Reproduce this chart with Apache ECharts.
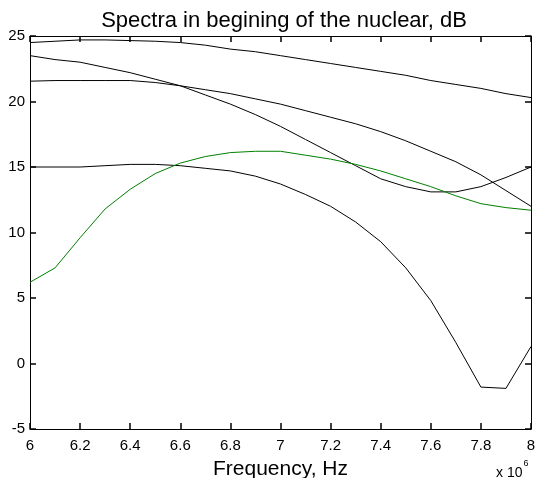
<!DOCTYPE html>
<html>
<head>
<meta charset="utf-8">
<script src="https://cdn.jsdelivr.net/npm/echarts@6/dist/echarts.min.js"></script>
<style>
  html, body { margin: 0; padding: 0; background: #fff; }
  #chart { width: 537px; height: 478px; }
</style>
</head>
<body>
<div id="chart"></div>
<script>
// frequency in units of 1e6 Hz
var freq = [6.0, 6.1, 6.2, 6.3, 6.4, 6.5, 6.6, 6.7, 6.8, 6.9, 7.0,
            7.1, 7.2, 7.3, 7.4, 7.5, 7.6, 7.7, 7.8, 7.9, 8.0];

var specTop = [24.5, 24.6, 24.7, 24.7, 24.65, 24.6, 24.5, 24.3, 24.0, 23.8, 23.5,
               23.2, 22.9, 22.6, 22.3, 22.0, 21.6, 21.3, 21.0, 20.6, 20.3];
var specB = [23.5, 23.2, 23.0, 22.6, 22.2, 21.7, 21.2, 20.5, 19.8, 19.0, 18.1,
             17.1, 16.1, 15.1, 14.1, 13.5, 13.1, 13.1, 13.5, 14.2, 15.0];
var specC = [21.55, 21.6, 21.6, 21.6, 21.6, 21.45, 21.2, 20.9, 20.6, 20.2, 19.8,
             19.3, 18.8, 18.3, 17.7, 17.0, 16.2, 15.4, 14.4, 13.2, 12.0];
var specD = [15.0, 15.0, 15.0, 15.1, 15.2, 15.2, 15.1, 14.9, 14.7, 14.3, 13.7,
             12.9, 12.0, 10.8, 9.3, 7.3, 4.8, 1.6, -1.8, -1.9, 1.3];
var specGreen = [6.2, 7.3, 9.6, 11.8, 13.3, 14.5, 15.3, 15.8, 16.1, 16.2, 16.2,
                 15.9, 15.6, 15.2, 14.7, 14.1, 13.5, 12.8, 12.2, 11.9, 11.7];

function pairs(ys) {
    return freq.map(function (f, i) { return [f, ys[i]]; });
}

function line(ys, color) {
    return {
        type: 'line',
        data: pairs(ys),
        symbol: 'none',
        lineStyle: { color: color, width: 1 }
    };
}

var font = 'Liberation Sans, Arial, sans-serif';

// box axes with inward ticks, like the matlab plot
function axisStyle() {
    return {
        axisLine: { show: true, onZero: false, lineStyle: { color: '#000', width: 1 } },
        axisTick: { show: true, inside: true, length: 6, lineStyle: { color: '#000', width: 1.5 } },
        splitLine: { show: false }
    };
}

var myChart = echarts.init(document.getElementById('chart'));
var option = {
    animation: false,
    backgroundColor: '#fff',
    title: {
        text: 'Spectra in begining of the nuclear, dB',
        left: 279, top: 5, textAlign: 'center',
        textStyle: { fontFamily: font, fontSize: 22, fontWeight: 'normal', color: '#000' }
    },
    grid: { left: 30, right: 6, top: 36, bottom: 49, outerBoundsMode: 'none' },
    xAxis: [
        Object.assign(axisStyle(), {
            type: 'value', min: 6, max: 8, interval: 0.2, position: 'bottom',
            name: 'Frequency, Hz', nameLocation: 'middle', nameGap: 30,
            nameTextStyle: { fontFamily: font, fontSize: 21, color: '#000' },
            axisLabel: {
                fontFamily: font, fontSize: 15, color: '#000', margin: 9,
                formatter: function (v) { return String(Number(v.toFixed(1))); }
            }
        }),
        Object.assign(axisStyle(), {
            type: 'value', min: 6, max: 8, interval: 0.2, position: 'top',
            axisLabel: { show: false }
        })
    ],
    yAxis: [
        Object.assign(axisStyle(), {
            type: 'value', min: -5, max: 25, interval: 5, position: 'left',
            axisLabel: { fontFamily: font, fontSize: 15, color: '#000', margin: 5 }
        }),
        Object.assign(axisStyle(), {
            type: 'value', min: -5, max: 25, interval: 5, position: 'right',
            axisLabel: { show: false }
        })
    ],
    graphic: [{
        type: 'text', left: 496, top: 459,
        style: {
            text: '{a|x 10}{s|6}',
            rich: {
                a: { fontFamily: font, fontSize: 14, fill: '#000', padding: [7, 0, 0, 0] },
                s: { fontFamily: font, fontSize: 9, fill: '#000', verticalAlign: 'top', padding: [0, 0, 7, 1] }
            }
        }
    }],
    series: [
        line(specTop, '#000'),
        line(specB, '#000'),
        line(specC, '#000'),
        line(specD, '#000'),
        line(specGreen, '#008000')
    ]
};

myChart.setOption(option);
</script>
</body>
</html>
